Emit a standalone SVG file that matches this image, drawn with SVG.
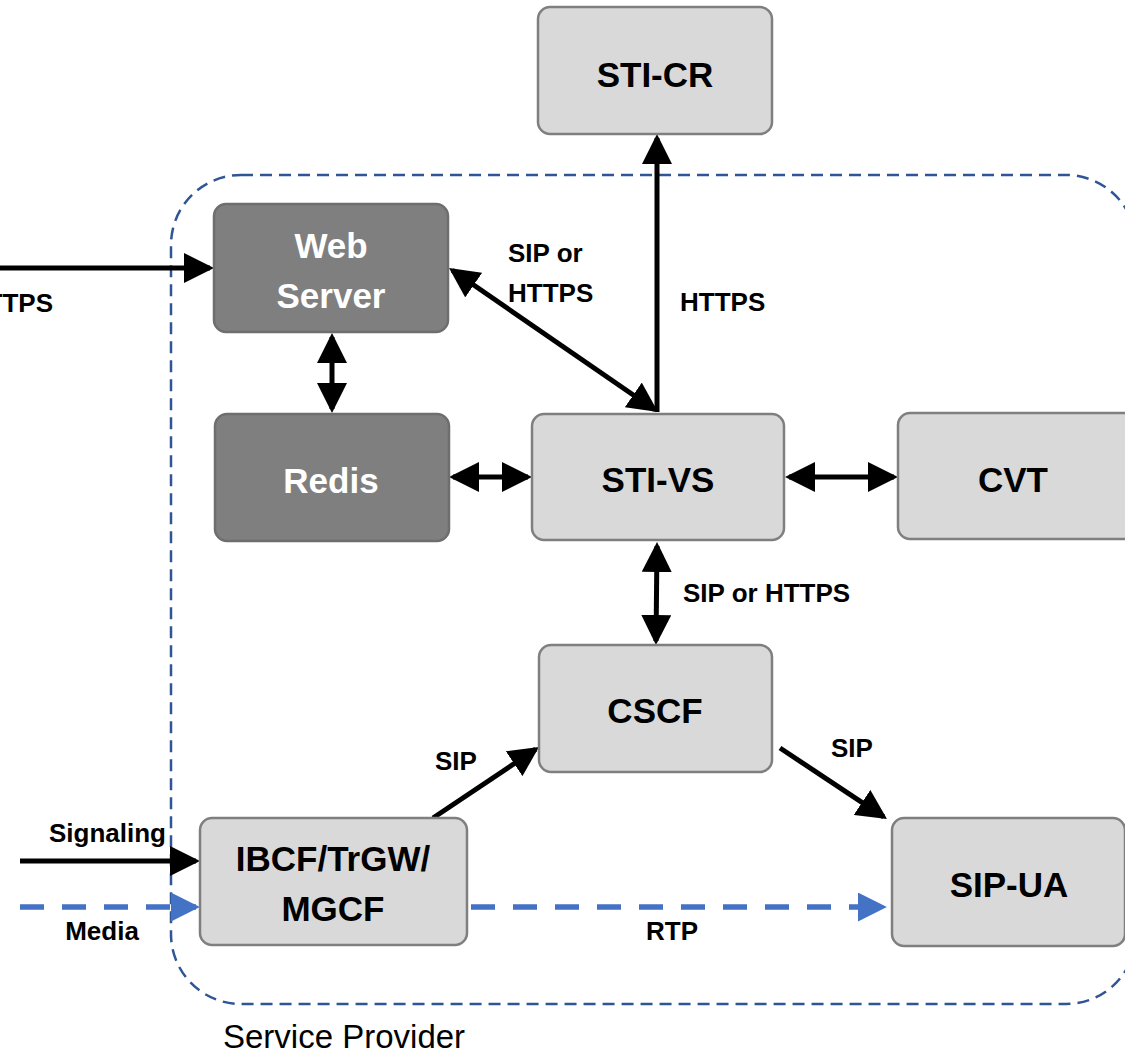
<svg xmlns="http://www.w3.org/2000/svg" width="1125" height="1053" viewBox="0 0 1125 1053">
<style>
.box{fill:#d9d9d9;stroke:#7f7f7f;stroke-width:2.5}
.dark{fill:#7f7f7f;stroke:#6e6e6e;stroke-width:2.5}
.nl{font-family:"Liberation Sans",Arial,sans-serif;font-weight:bold;font-size:35px;text-anchor:middle;fill:#000}
.wl{fill:#fff}
.el{font-family:"Liberation Sans",Arial,sans-serif;font-weight:bold;font-size:26px;fill:#000}
.c{stroke:#000;stroke-width:5;fill:none}
.blue{stroke:#4472c4;stroke-width:5.5;fill:none;stroke-dasharray:24 18}
</style>
<defs>
<marker id="ah" viewBox="0 0 30 30" refX="26" refY="15" markerWidth="30" markerHeight="30" markerUnits="userSpaceOnUse" orient="auto-start-reverse">
<path d="M0,0 L30,15 L0,30 z" fill="#000"/>
</marker>
<marker id="bh" viewBox="0 0 30 30" refX="26" refY="15" markerWidth="29" markerHeight="29" markerUnits="userSpaceOnUse" orient="auto">
<path d="M0,0 L30,15 L0,30 z" fill="#4472c4"/>
</marker>
</defs>
<g id="boundary">
<rect x="171" y="175" width="965" height="829" rx="70" ry="70" fill="none" stroke="#2f5597" stroke-width="2.5" stroke-dasharray="12 7"/>
<text x="223" y="1048" font-family="'Liberation Sans',Arial,sans-serif" font-size="33" fill="#000">Service Provider</text>
</g>
<g id="connectors">
<line class="c" x1="0" y1="268" x2="210" y2="268" marker-end="url(#ah)"/>
<line class="c" x1="452.3" y1="270.3" x2="654.7" y2="409.7" marker-start="url(#ah)" marker-end="url(#ah)"/>
<line class="c" x1="657" y1="412" x2="657" y2="138" marker-end="url(#ah)"/>
<line class="c" x1="332" y1="337" x2="332" y2="409" marker-start="url(#ah)" marker-end="url(#ah)"/>
<line class="c" x1="453" y1="477" x2="528" y2="477" marker-start="url(#ah)" marker-end="url(#ah)"/>
<line class="c" x1="789" y1="477" x2="894" y2="477" marker-start="url(#ah)" marker-end="url(#ah)"/>
<line class="c" x1="657" y1="546" x2="656" y2="641" marker-start="url(#ah)" marker-end="url(#ah)"/>
<line class="c" x1="433" y1="818" x2="535.7" y2="749.2" marker-end="url(#ah)"/>
<line class="c" x1="780" y1="748" x2="883.7" y2="816.8" marker-end="url(#ah)"/>
<line class="c" x1="20" y1="861" x2="196" y2="861" marker-end="url(#ah)"/>
<line class="blue" x1="20" y1="907" x2="196" y2="907" marker-end="url(#bh)"/>
<line class="blue" x1="471" y1="907" x2="883" y2="907" marker-end="url(#bh)"/>
<text class="el" x="53" y="312" text-anchor="end">HTTPS</text>
<text class="el" x="508" y="262">SIP or</text>
<text class="el" x="508" y="302">HTTPS</text>
<text class="el" x="680" y="311">HTTPS</text>
<text class="el" x="683" y="602">SIP or HTTPS</text>
<text class="el" x="456" y="770" text-anchor="middle">SIP</text>
<text class="el" x="852" y="757" text-anchor="middle">SIP</text>
<text class="el" x="166" y="842" text-anchor="end">Signaling</text>
<text class="el" x="102" y="940" text-anchor="middle">Media</text>
<text class="el" x="672" y="940" text-anchor="middle">RTP</text>
</g>
<g id="sti-cr">
<rect class="box" x="538" y="7" width="234" height="127" rx="12"/>
<text class="nl" x="655" y="87">STI-CR</text>
</g>
<g id="web-server">
<rect class="dark" x="214" y="204" width="234" height="128" rx="12"/>
<text class="nl wl" x="331" y="258">Web</text>
<text class="nl wl" x="331" y="308">Server</text>
</g>
<g id="redis">
<rect class="dark" x="215" y="414" width="234" height="127" rx="12"/>
<text class="nl wl" x="331" y="493">Redis</text>
</g>
<g id="sti-vs">
<rect class="box" x="532" y="414" width="252" height="126" rx="12"/>
<text class="nl" x="658" y="492">STI-VS</text>
</g>
<g id="cvt">
<rect class="box" x="898" y="413" width="240" height="126" rx="12"/>
<text class="nl" x="1013" y="492">CVT</text>
</g>
<g id="cscf">
<rect class="box" x="539" y="645" width="233" height="127" rx="12"/>
<text class="nl" x="655" y="723">CSCF</text>
</g>
<g id="ibcf">
<rect class="box" x="200" y="818" width="267" height="127" rx="12"/>
<text class="nl" x="333" y="871">IBCF/TrGW/</text>
<text class="nl" x="333" y="921">MGCF</text>
</g>
<g id="sip-ua">
<rect class="box" x="892" y="818" width="233" height="128" rx="12"/>
<text class="nl" x="1009" y="897">SIP-UA</text>
</g>
</svg>
